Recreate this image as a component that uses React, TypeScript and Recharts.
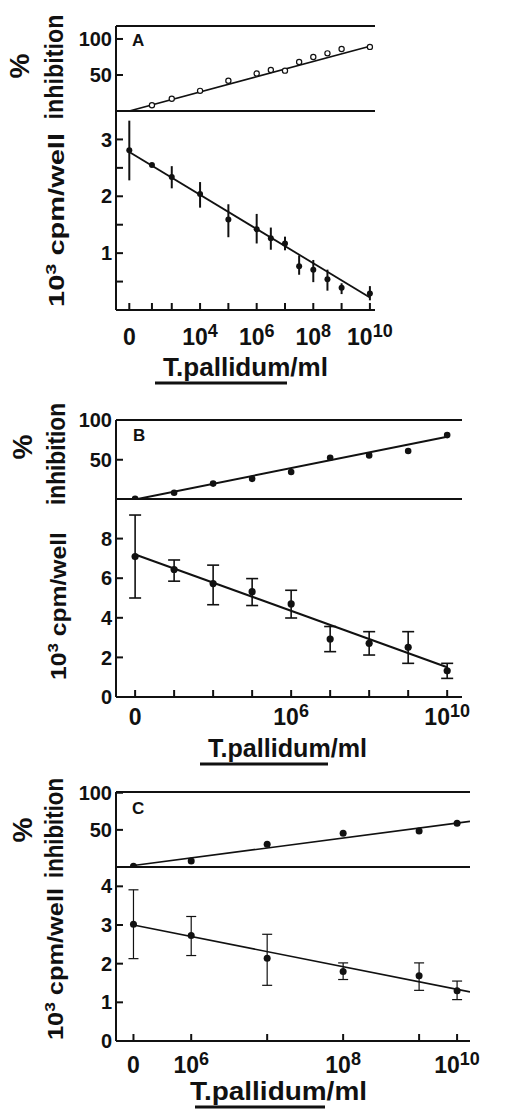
import React from 'react';
import { ScatterChart, Scatter, XAxis, YAxis, ErrorBar } from 'recharts';

const INK = '#111';
const FONT = '"Liberation Sans", Arial, sans-serif';

// x positions are log10(T. pallidum/ml); the control (0) column sits left of the break

// panel A
const aDose = [1.5, 2.3, 3, 4, 5, 6, 6.5, 7, 7.5, 8, 8.5, 9, 10];
const aCpm = [2.81, 2.55, 2.34, 2.04, 1.59, 1.42, 1.26, 1.17, 0.77, 0.71, 0.54, 0.39, 0.29];
const aCpmLo = [2.28, 2.55, 2.14, 1.8, 1.28, 1.17, 1.06, 1.05, 0.62, 0.49, 0.34, 0.28, 0.17];
const aCpmHi = [3.33, 2.55, 2.53, 2.25, 1.86, 1.69, 1.45, 1.29, 0.96, 0.88, 0.71, 0.47, 0.42];
const aInhDose = [2.3, 3, 4, 5, 6, 6.5, 7, 7.5, 8, 8.5, 9, 10];
const aInh = [8, 17, 28, 42, 52, 57, 56, 68, 75, 80, 86, 89];
const aFitDose = [1.5, 10];
const aCpmFit = [2.78, 0.22];
const aInhFit = [0, 90];
const aTicks = [1.5, 2.3, 3, 4, 5, 6, 7, 8, 9, 10];
const aLabelAt = [1.5, 4, 6, 8, 10];
const aLabelExp = ['', '4', '6', '8', '10'];

// panel B
const bDose = [2, 3, 4, 5, 6, 7, 8, 9, 10];
const bCpm = [7.09, 6.44, 5.73, 5.32, 4.7, 2.93, 2.71, 2.51, 1.32];
const bCpmLo = [5.0, 5.85, 4.66, 4.62, 3.99, 2.29, 2.12, 1.7, 0.94];
const bCpmHi = [9.19, 6.92, 6.66, 5.98, 5.39, 3.56, 3.3, 3.3, 1.7];
const bInh = [1, 8.5, 20, 26, 34.5, 52.5, 55.5, 61, 81];
const bFitDose = [2, 10];
const bCpmFit = [7.2, 1.5];
const bInhFit = [0, 79];
const bTicks = [2, 3, 4, 5, 6, 7, 8, 9, 10];
const bLabelAt = [2, 6, 10];
const bLabelExp = ['', '6', '10'];

// panel C
const cDose = [5.24, 6, 7, 8, 9, 9.5];
const cCpm = [3.02, 2.73, 2.14, 1.8, 1.69, 1.3];
const cCpmLo = [2.13, 2.21, 1.44, 1.59, 1.31, 1.07];
const cCpmHi = [3.91, 3.22, 2.76, 2.02, 2.02, 1.55];
const cInh = [1, 8, 30.5, 45.5, 48.5, 59];
const cFitDose = [5.24, 9.67];
const cCpmFit = [3.0, 1.27];
const cInhFit = [2, 61.5];
const cTicks = [5.24, 6, 7, 8, 9, 9.5];
const cLabelAt = [5.24, 6, 8, 9.5];
const cLabelExp = ['', '6', '8', '10'];

const pts = (xs: number[], ys: number[], lo?: number[], hi?: number[]) =>
  xs.map((x, i) => ({
    x,
    y: ys[i],
    err: lo && hi ? [ys[i] - lo[i], hi[i] - ys[i]] : undefined,
  }));

const W = 518;
const LEFT = 116;
const Y_W = 60;
const M_TOP = 14;
const M_BOT = 4;
const TOP_H = 1;
const BOT_H = 50;

type SubProps = {
  top: number;
  h: number;
  right: number;
  xDomain: [number, number];
  xTicks: number[];
  yDomain: [number, number];
  yTicks: number[];
  yFmt?: (v: number) => string;
  data: any[];
  fit: any[];
  labelAt?: number[];
  labelExp?: string[];
  labelDy?: number;
  open?: boolean;
  r: number;
  cap: number;
  lw: number;
  ebw: number;
};

function Subplot(p: SubProps) {
  const lower = !!p.labelAt;
  const chartH = p.h + M_TOP + TOP_H + M_BOT + (lower ? BOT_H : 0);

  const xTick = (t: any) => {
    const i = (p.labelAt || []).findIndex((v) => Math.abs(v - t.payload.value) < 1e-6);
    if (i < 0) return <g />;
    const exp = p.labelExp![i];
    return (
      <text
        x={t.x}
        y={t.y + (p.labelDy || 30)}
        textAnchor="middle"
        fontFamily={FONT}
        fontWeight="bold"
        fontSize={23}
        fill={INK}
      >
        {exp ? '10' : '0'}
        {exp && (
          <tspan dy={-8} fontSize={18}>
            {exp}
          </tspan>
        )}
      </text>
    );
  };

  return (
    <div style={{ position: 'absolute', left: 0, top: p.top - M_TOP - TOP_H }}>
      <ScatterChart
        width={W}
        height={chartH}
        margin={{ top: M_TOP, right: W - p.right, bottom: M_BOT, left: LEFT - Y_W }}
      >
        <XAxis
          xAxisId="t"
          orientation="top"
          type="number"
          dataKey="x"
          domain={p.xDomain}
          ticks={p.xTicks}
          interval={0}
          height={TOP_H}
          tick={false}
          tickSize={-4}
          tickLine={lower ? { stroke: INK, strokeWidth: 1.5 } : false}
          axisLine={{ stroke: INK, strokeWidth: 2 }}
          allowDataOverflow
        />
        {lower && (
          <XAxis
            xAxisId="b"
            orientation="bottom"
            type="number"
            dataKey="x"
            domain={p.xDomain}
            ticks={p.xTicks}
            interval={0}
            height={BOT_H}
            tickSize={-7}
            tickMargin={7}
            tick={xTick}
            tickLine={{ stroke: INK, strokeWidth: 2 }}
            axisLine={{ stroke: INK, strokeWidth: 2 }}
            allowDataOverflow
          />
        )}
        <YAxis
          type="number"
          dataKey="y"
          domain={p.yDomain}
          ticks={p.yTicks}
          interval={0}
          width={Y_W}
          tickSize={-7}
          tickMargin={11}
          tickFormatter={p.yFmt}
          tick={{ fill: INK, fontSize: 20, fontWeight: 700, fontFamily: FONT }}
          tickLine={{ stroke: INK, strokeWidth: 2 }}
          axisLine={{ stroke: INK, strokeWidth: 2 }}
          allowDataOverflow
        />
        <Scatter
          xAxisId="t"
          data={p.fit}
          line={{ stroke: INK, strokeWidth: p.lw }}
          shape={() => <g />}
          isAnimationActive={false}
        />
        <Scatter
          xAxisId={lower ? 'b' : 't'}
          data={p.data}
          isAnimationActive={false}
          shape={(s: any) => (
            <circle
              cx={s.cx}
              cy={s.cy}
              r={p.r}
              fill={p.open ? '#fff' : INK}
              stroke={INK}
              strokeWidth={p.open ? 1.2 : 0}
            />
          )}
        >
          {lower && (
            <ErrorBar dataKey="err" direction="y" width={p.cap} stroke={INK} strokeWidth={p.ebw} />
          )}
        </Scatter>
      </ScatterChart>
    </div>
  );
}

const intOnly = (v: number) => (Number.isInteger(v) ? String(v) : '');

function VText({ x, y, len, size, children }: any) {
  return (
    <text
      x={x}
      y={y}
      transform={`rotate(-90 ${x} ${y})`}
      textAnchor="middle"
      textLength={len}
      lengthAdjust="spacingAndGlyphs"
      fontFamily={FONT}
      fontWeight="bold"
      fontSize={size}
      fill={INK}
    >
      {children}
    </text>
  );
}

function Titles({ pct, inh, cpm, letter, xl }: any) {
  return (
    <g>
      <VText x={pct[0]} y={pct[1]} size={28}>%</VText>
      <VText x={inh[0]} y={inh[1]} len={inh[2]} size={25}>inhibition</VText>
      <VText x={cpm[0]} y={cpm[1]} len={cpm[2]} size={22}>
        10
        <tspan dy={-8} fontSize={15}>3</tspan>
        <tspan dy={8}> cpm/well</tspan>
      </VText>
      <text x={letter[0]} y={letter[1]} fontFamily={FONT} fontWeight="bold" fontSize={17} fill={INK}>
        {letter[2]}
      </text>
      <text
        x={xl[0]}
        y={xl[1]}
        textLength={xl[2]}
        lengthAdjust="spacingAndGlyphs"
        fontFamily={FONT}
        fontWeight="bold"
        fontSize={26}
        fill={INK}
      >
        T.pallidum/ml
      </text>
      <line x1={xl[3]} x2={xl[4]} y1={xl[5]} y2={xl[5]} stroke={INK} strokeWidth={3} />
    </g>
  );
}

export default function App() {
  return (
    <div style={{ position: 'absolute', left: 0, top: 0, width: W, height: 1110, background: '#fff' }}>
      {/* A */}
      <Subplot
        top={26} h={85} right={375}
        xDomain={[1.03, 10.18]} xTicks={aTicks}
        yDomain={[0, 118]} yTicks={[50, 100]}
        data={pts(aInhDose, aInh)} fit={pts(aFitDose, aInhFit)}
        open r={2.6} cap={0} lw={1.6} ebw={2}
      />
      <Subplot
        top={111} h={199} right={375}
        xDomain={[1.03, 10.18]} xTicks={aTicks}
        yDomain={[0, 3.5]} yTicks={[0.5, 1, 1.5, 2, 2.5, 3]} yFmt={intOnly}
        data={pts(aDose, aCpm, aCpmLo, aCpmHi)} fit={pts(aFitDose, aCpmFit)}
        labelAt={aLabelAt} labelExp={aLabelExp} labelDy={35}
        r={3} cap={0} lw={1.8} ebw={2}
      />
      {/* B */}
      <Subplot
        top={419.5} h={79.5} right={462}
        xDomain={[1.51, 10.38]} xTicks={bTicks}
        yDomain={[0, 100]} yTicks={[50, 100]}
        data={pts(bDose, bInh)} fit={pts(bFitDose, bInhFit)}
        r={3.3} cap={0} lw={2} ebw={2}
      />
      <Subplot
        top={499} h={198} right={462}
        xDomain={[1.51, 10.38]} xTicks={bTicks}
        yDomain={[0, 10]} yTicks={[0, 2, 4, 6, 8]}
        data={pts(bDose, bCpm, bCpmLo, bCpmHi)} fit={pts(bFitDose, bCpmFit)}
        labelAt={bLabelAt} labelExp={bLabelExp} labelDy={28}
        r={3.6} cap={6} lw={2} ebw={1.6}
      />
      {/* C */}
      <Subplot
        top={792} h={75} right={470}
        xDomain={[5.01, 9.67]} xTicks={cTicks}
        yDomain={[0, 101]} yTicks={[50, 100]}
        data={pts(cDose, cInh)} fit={pts(cFitDose, cInhFit)}
        r={3.5} cap={0} lw={1.6} ebw={1.5}
      />
      <Subplot
        top={867} h={174} right={470}
        xDomain={[5.01, 9.67]} xTicks={cTicks}
        yDomain={[0, 4.5]} yTicks={[0, 1, 2, 3, 4]}
        data={pts(cDose, cCpm, cCpmLo, cCpmHi)} fit={pts(cFitDose, cCpmFit)}
        labelAt={cLabelAt} labelExp={cLabelExp} labelDy={32}
        r={3.5} cap={5} lw={1.6} ebw={1.2}
      />
      <svg
        width={W}
        height={1110}
        style={{ position: 'absolute', left: 0, top: 0, pointerEvents: 'none' }}
      >
        <Titles
          pct={[29, 66]} inh={[63, 67, 105]} cpm={[64, 220, 174]}
          letter={[132, 46, 'A']} xl={[163, 376, 165, 155, 287, 383]}
        />
        <Titles
          pct={[32, 447]} inh={[65, 454, 102]} cpm={[66, 606, 148]}
          letter={[133, 441, 'B']} xl={[208, 757, 159, 200, 328, 764]}
        />
        <Titles
          pct={[32, 830]} inh={[63, 828, 100]} cpm={[63, 964, 152]}
          letter={[132, 814, 'C']} xl={[190, 1100, 177, 195, 325, 1107]}
        />
      </svg>
    </div>
  );
}
